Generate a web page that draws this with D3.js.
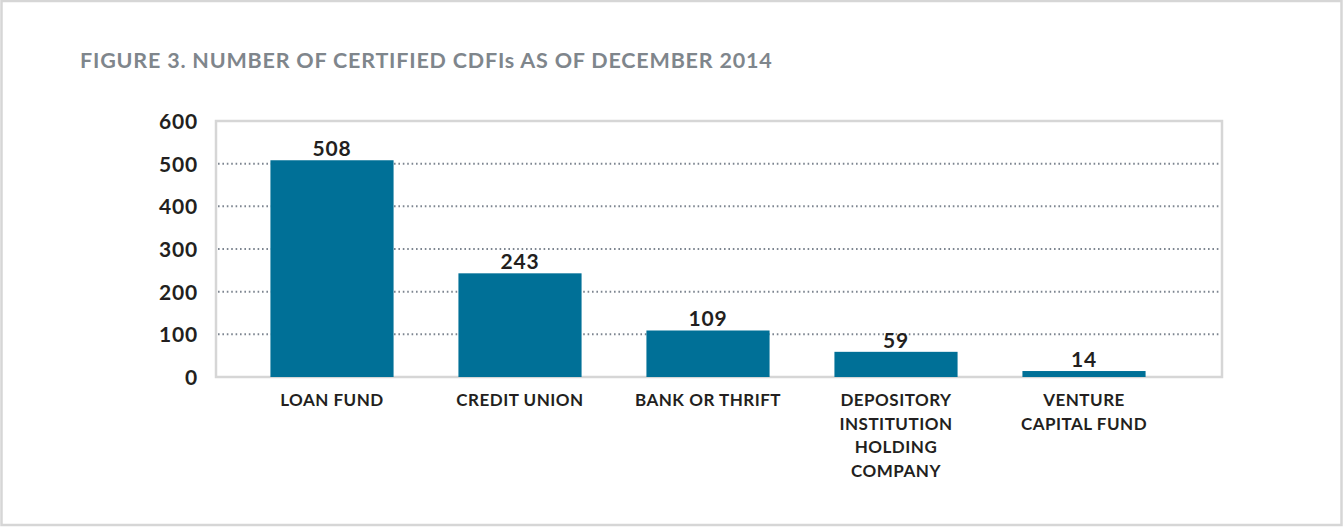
<!DOCTYPE html>
<html>
<head>
<meta charset="utf-8">
<script src="https://cdn.jsdelivr.net/npm/d3@7"></script>
<style>
  html, body { margin: 0; padding: 0; background: #fff; }
  svg { display: block; }
</style>
</head>
<body>
<script>
// chart data
let categories = [["LOAN FUND"], ["CREDIT UNION"], ["BANK OR THRIFT"],
                  ["DEPOSITORY", "INSTITUTION", "HOLDING", "COMPANY"],
                  ["VENTURE", "CAPITAL FUND"]];
let counts = [508, 243, 109, 59, 14];
let yTicks = [0, 100, 200, 300, 400, 500, 600];
let title = "FIGURE 3. NUMBER OF CERTIFIED CDFIs AS OF DECEMBER 2014";

let width = 1343;
let height = 527;
let font = "Lato, 'Open Sans', sans-serif";

let svg = d3.select('body').append('svg')
            .attr('width', width)
            .attr('height', height);

// page border
svg.append('rect')
   .attr('x', 1.5).attr('y', 1)
   .attr('width', width - 3).attr('height', height - 3)
   .attr('fill', 'none')
   .attr('stroke', '#d6d6d6')
   .attr('stroke-width', 2.5);

svg.append('text')
   .attr('x', 80).attr('y', 68)
   .attr('font-family', font)
   .attr('font-weight', 700)
   .attr('font-size', 21.5)
   .attr('letter-spacing', 0.8)
   .attr('fill', '#7f868c')
   .text(title);

let plot = { left: 216, right: 1222, top: 121, bottom: 377 };

let y = d3.scaleLinear()
          .domain([0, 600])
          .range([plot.bottom, plot.top]);

let x = d3.scaleBand()
          .domain(d3.range(counts.length))
          .range([238, 1178])
          .paddingInner(0.345)
          .paddingOuter(0.1725);

// dotted gridlines
svg.append('g')
   .selectAll('line')
   .data(yTicks.filter((t) => { return t > 0 && t < 600; }))
   .enter()
   .append('line')
   .attr('x1', plot.left + 2)
   .attr('x2', plot.right - 2)
   .attr('y1', (d) => { return y(d); })
   .attr('y2', (d) => { return y(d); })
   .attr('stroke', '#7d8590')
   .attr('stroke-width', 2)
   .attr('stroke-dasharray', '1.6,2.8');

// frame
svg.append('rect')
   .attr('x', plot.left).attr('y', plot.top)
   .attr('width', plot.right - plot.left)
   .attr('height', plot.bottom - plot.top)
   .attr('fill', 'none')
   .attr('stroke', '#d6d6d6')
   .attr('stroke-width', 2.5);

// bars
svg.append('g')
   .selectAll('rect')
   .data(counts)
   .enter()
   .append('rect')
   .attr('x', (d, i) => { return x(i); })
   .attr('width', x.bandwidth())
   .attr('y', (d) => { return y(d); })
   .attr('height', (d) => { return plot.bottom - y(d); })
   .attr('fill', '#007097');

// value labels
svg.append('g')
   .selectAll('text')
   .data(counts)
   .enter()
   .append('text')
   .attr('x', (d, i) => { return x(i) + x.bandwidth() / 2; })
   .attr('y', (d) => { return y(d) - 4; })
   .attr('text-anchor', 'middle')
   .attr('font-family', font)
   .attr('font-weight', 700)
   .attr('font-size', 21)
   .attr('letter-spacing', 0.8)
   .attr('fill', '#231f20')
   .text((d) => { return d; });

// y axis
let yAxis = d3.axisLeft(y).tickValues(yTicks).tickSize(0).tickPadding(0);
let yg = svg.append('g')
            .attr('transform', 'translate(198, 0)')
            .call(yAxis);
yg.select('.domain').remove();
yg.selectAll('text')
  .attr('font-family', font)
  .attr('font-weight', 700)
  .attr('font-size', 21)
  .attr('letter-spacing', 0.8)
  .attr('fill', '#231f20')
  .attr('dy', '0.35em');

// category labels
let cat = svg.append('g')
             .selectAll('text')
             .data(categories)
             .enter()
             .append('text')
             .attr('text-anchor', 'middle')
             .attr('font-family', font)
             .attr('font-weight', 700)
             .attr('font-size', 17)
             .attr('letter-spacing', 0.5)
             .attr('fill', '#231f20');
cat.selectAll('tspan')
   .data((d, i) => { return d.map((t) => { return { t: t, i: i }; }); })
   .enter()
   .append('tspan')
   .attr('x', (d) => { return x(d.i) + x.bandwidth() / 2; })
   .attr('y', (d, j) => { return 406 + j * 23.5; })
   .text((d) => { return d.t; });
</script>
</body>
</html>
